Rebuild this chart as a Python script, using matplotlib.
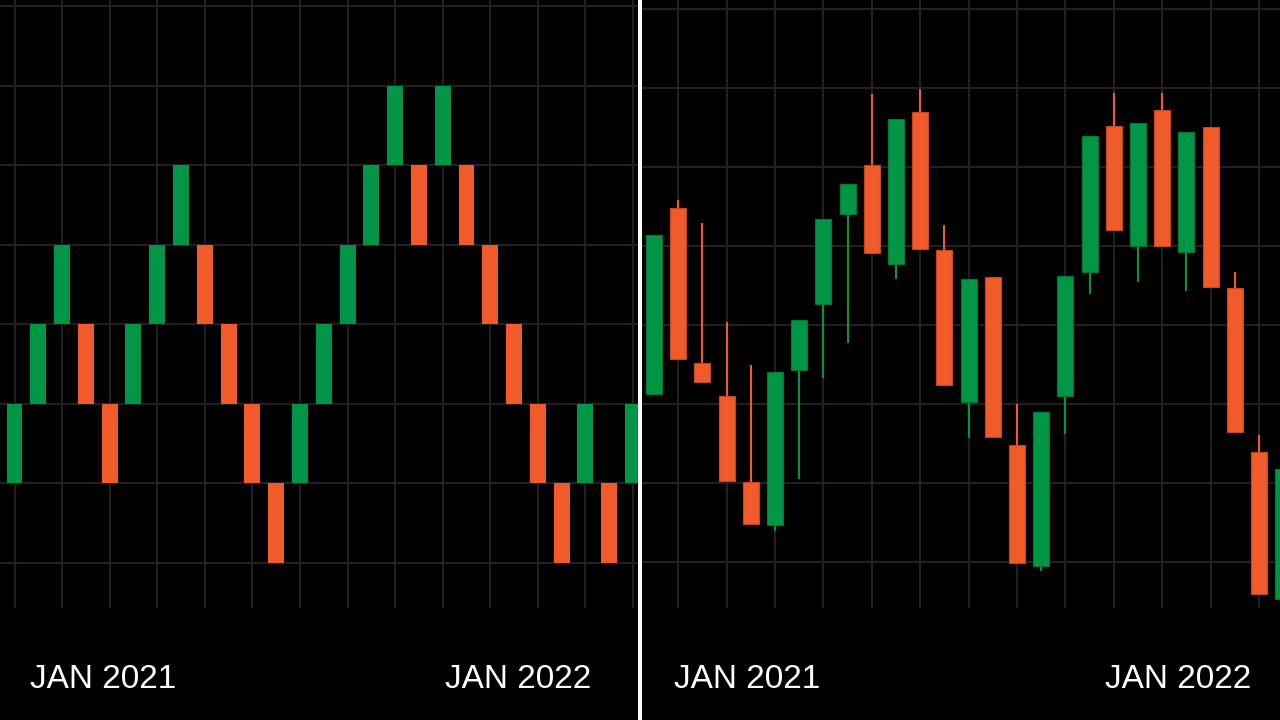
import matplotlib
matplotlib.use("Agg")
import matplotlib.pyplot as plt
from matplotlib.patches import Rectangle
import numpy as np

# -----------------------------
# data
# -----------------------------
# renko bricks (left): open / close, brick size 10
renko_open = [110, 120, 130, 130, 120, 120, 130, 140, 140, 130, 120, 110, 110, 120,
              130, 140, 150, 150, 150, 150, 140, 130, 120, 110, 110, 110, 110]
renko_close = [120, 130, 140, 120, 110, 130, 140, 150, 130, 120, 110, 100, 120, 130,
               140, 150, 160, 140, 160, 140, 130, 120, 110, 100, 120, 100, 120]

# candles (right): open / high / low / close
candle_open = [121.3, 144.8, 125.2, 121.1, 110.2, 104.7, 124.4, 132.7, 144.1, 150.3,
               137.7, 157.0, 139.5, 120.3, 136.1, 114.8, 99.5, 121.1, 136.7, 155.2,
               140.1, 157.2, 139.3, 155.1, 134.7, 113.9, 95.4]
candle_high = [141.4, 145.9, 142.9, 130.4, 125.0, 124.1, 130.7, 143.5, 147.9, 159.3,
               156.1, 159.9, 142.7, 135.9, 136.1, 120.0, 119.0, 136.3, 154.0, 159.4,
               155.6, 159.4, 154.5, 155.1, 136.7, 116.1, 111.8]
candle_low = [121.3, 125.7, 122.8, 110.3, 104.9, 103.9, 110.5, 123.3, 127.7, 139.1,
              135.9, 139.7, 122.5, 115.7, 115.9, 99.9, 98.9, 116.2, 133.9, 142.1,
              135.5, 140.0, 134.3, 134.9, 116.5, 96.0, 95.4]
candle_close = [141.4, 125.7, 122.8, 110.3, 104.9, 124.1, 130.7, 143.5, 147.9, 139.1,
                156.1, 139.7, 122.5, 135.9, 115.9, 99.9, 119.0, 136.3, 154.0, 142.1,
                155.6, 140.0, 154.5, 134.9, 116.5, 96.0, 111.8]

price_grid = [100, 110, 120, 130, 140, 150, 160, 170]
date_labels = ["JAN 2021", "JAN 2022"]

# -----------------------------
# style
# -----------------------------
BG = "#000000"
GRID = "#202026"
UP = "#009645"
DOWN = "#f15a29"
UP_EDGE = "#007a38"
DOWN_EDGE = "#c9461e"

plt.rcParams["font.family"] = ["Liberation Sans Narrow", "Liberation Sans", "DejaVu Sans"]

W, H = 1280, 720
fig = plt.figure(figsize=(W / 100, H / 100), dpi=100, facecolor=BG)


def px_axes(x0, x1, y_top, y_bot):
    # pixel box -> figure fraction axes
    return fig.add_axes([x0 / W, 1 - y_bot / H, (x1 - x0) / W, (y_bot - y_top) / H])


def style_axes(ax, xticks):
    ax.set_facecolor(BG)
    for s in ax.spines.values():
        s.set_visible(False)
    ax.set_xticks(xticks)
    ax.set_yticks(price_grid)
    ax.tick_params(length=0, labelbottom=False, labelleft=False)
    ax.grid(True, color=GRID, linewidth=1.5, zorder=0)
    ax.set_axisbelow(True)


# -----------------------------
# left: renko
# -----------------------------
axl = px_axes(0, 637.5, 0, 608)
n_r = len(renko_open)
xr = np.arange(n_r)
step_l = 23.79  # px per brick
x0_l = 14.5     # px of brick 0
axl.set_xlim(-x0_l / step_l, (637.5 - x0_l) / step_l)
# 100 -> y 563 px, 170 -> y 6 px
ppu_l = (563 - 6) / 70
axl.set_ylim(100 - (608 - 563) / ppu_l, 170 + 6 / ppu_l)
style_axes(axl, np.arange(0, n_r, 2))

ro = np.array(renko_open, float)
rc = np.array(renko_close, float)
up_r = rc > ro
axl.bar(xr, rc - ro, bottom=ro, width=0.67,
        color=np.where(up_r, UP, DOWN), linewidth=0, zorder=3)

# -----------------------------
# right: candles
# -----------------------------
axr = px_axes(641.5, 1280, 0, 608)
n_c = len(candle_open)
xc = np.arange(n_c)
step_r = 24.2
x0_r = 654.0
axr.set_xlim((641.5 - x0_r) / step_r, (1280 - x0_r) / step_r)
ppu_r = (562.3 - 9.3) / 70
axr.set_ylim(100 - (608 - 562.3) / ppu_r, 170 + 9.3 / ppu_r)
style_axes(axr, np.arange(1, n_c, 2))

co = np.array(candle_open)
cc = np.array(candle_close)
up_c = cc >= co
cols = np.where(up_c, UP, DOWN)
edges = np.where(up_c, UP_EDGE, DOWN_EDGE)
axr.vlines(xc, candle_low, candle_high, colors=cols, linewidth=1.5, zorder=2)
axr.bar(xc, cc - co, bottom=co, width=0.66, color=cols,
        edgecolor=edges, linewidth=0.8, zorder=3)

# divider
fig.add_artist(Rectangle((637.5 / W, 0), 4 / W, 1, transform=fig.transFigure,
                         facecolor="white", edgecolor="none"))

# date labels
label_x = [[30, 445], [674, 1105]]
for xs in label_x:
    for x, txt in zip(xs, date_labels):
        fig.text(x / W, 32 / H, txt, color="white", fontsize=24,
                 ha="left", va="baseline")

fig.savefig("out.png", dpi=100, facecolor=BG)
